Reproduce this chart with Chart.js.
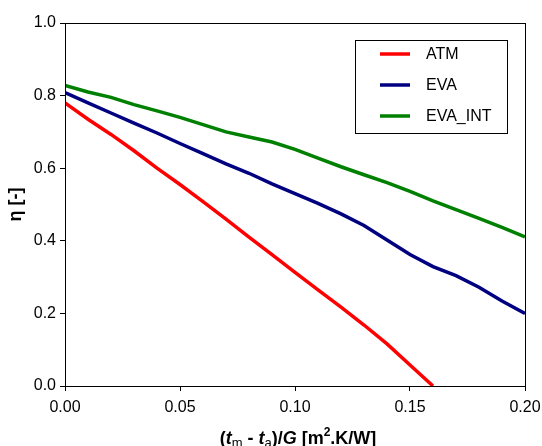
<!DOCTYPE html>
<html>
<head>
<meta charset="utf-8">
<script src="https://cdn.jsdelivr.net/npm/chart.js@4"></script>
<style>
  body { margin: 0; background: #fff; }
  canvas { display: block; }
</style>
</head>
<body>
<canvas id="chart" width="542" height="446"></canvas>
<script>
// values
const xValues = [0.00, 0.01, 0.02, 0.03, 0.04, 0.05, 0.06, 0.07, 0.08, 0.09, 0.10,
                 0.11, 0.12, 0.13, 0.14, 0.15, 0.16, 0.17, 0.18, 0.19, 0.20];
const atm = [0.780, 0.735, 0.693, 0.648, 0.600, 0.555, 0.508, 0.460, 0.410, 0.362, 0.313,
             0.265, 0.217, 0.168, 0.116, 0.058, 0.000];
const eva = [0.808, 0.780, 0.752, 0.724, 0.697, 0.668, 0.640, 0.612, 0.586, 0.557, 0.530,
             0.503, 0.474, 0.442, 0.402, 0.362, 0.329, 0.304, 0.272, 0.234, 0.200];
const evaInt = [0.828, 0.810, 0.795, 0.775, 0.758, 0.740, 0.720, 0.700, 0.686, 0.672, 0.652,
                0.628, 0.604, 0.582, 0.560, 0.536, 0.510, 0.486, 0.462, 0.437, 0.411];
const seriesNames = ['ATM', 'EVA', 'EVA_INT'];
const seriesColors = ['#ff0000', '#000080', '#008000'];

const toPoints = (ys) => ys.map((y, i) => ({ x: xValues[i], y: y }));

const FONT = 'Arial, "Liberation Sans", sans-serif';

// frame around the plot area
const frame = {
    id: 'frame',
    afterDraw(chart) {
        const { ctx, chartArea: a } = chart;
        ctx.save();
        ctx.strokeStyle = '#000';
        ctx.lineWidth = 1;
        ctx.strokeRect(a.left + 0.5, a.top + 0.5, a.right - a.left, a.bottom - a.top);
        ctx.restore();
    }
};

// boxed legend inside the plot, top right
const boxLegend = {
    id: 'boxLegend',
    afterDraw(chart) {
        const ctx = chart.ctx;
        ctx.save();
        ctx.fillStyle = '#fff';
        ctx.fillRect(355, 40, 152, 93);
        ctx.strokeStyle = '#000';
        ctx.lineWidth = 1;
        ctx.strokeRect(355.5, 40.5, 152, 93);
        ctx.font = '16px ' + FONT;
        ctx.textBaseline = 'middle';
        chart.data.datasets.forEach((ds, i) => {
            const y = 54 + i * 31;
            ctx.strokeStyle = ds.borderColor;
            ctx.lineWidth = 3.5;
            ctx.beginPath();
            ctx.moveTo(380, y);
            ctx.lineTo(410, y);
            ctx.stroke();
            ctx.fillStyle = '#000';
            ctx.fillText(ds.label, 426, y + 1);
        });
        ctx.restore();
    }
};

// x axis title with italics, subscripts and superscript
const xTitle = {
    id: 'xTitle',
    afterDraw(chart) {
        const ctx = chart.ctx;
        const parts = [
            { t: '(', f: 'bold 18px', dy: 0 },
            { t: 't', f: 'italic bold 18px', dy: 0 },
            { t: 'm', f: '13px', dy: 3 },
            { t: ' - ', f: 'bold 18px', dy: 0 },
            { t: 't', f: 'italic bold 18px', dy: 0 },
            { t: 'a', f: '13px', dy: 3 },
            { t: ')/', f: 'bold 18px', dy: 0 },
            { t: 'G', f: 'italic bold 18px', dy: 0 },
            { t: ' [m', f: 'bold 18px', dy: 0 },
            { t: '2', f: 'bold 12px', dy: -8 },
            { t: '.K/W]', f: 'bold 18px', dy: 0 }
        ];
        ctx.save();
        ctx.fillStyle = '#000';
        ctx.textBaseline = 'alphabetic';
        let total = 0;
        parts.forEach(p => {
            ctx.font = p.f + ' ' + FONT;
            p.w = ctx.measureText(p.t).width;
            total += p.w;
        });
        let x = 298 - total / 2;
        const base = 444;
        parts.forEach(p => {
            ctx.font = p.f + ' ' + FONT;
            ctx.fillText(p.t, x, base + p.dy);
            x += p.w;
        });
        ctx.restore();
    }
};

new Chart(document.getElementById('chart'), {
    type: 'line',
    data: {
        datasets: [atm, eva, evaInt].map((ys, i) => ({
            label: seriesNames[i],
            data: toPoints(ys),
            borderColor: seriesColors[i],
            backgroundColor: seriesColors[i],
            borderWidth: 3.5,
            pointRadius: 0,
            tension: 0,
            fill: false
        }))
    },
    options: {
        responsive: false,
        animation: false,
        layout: { padding: { top: 23, right: 17, left: 0, bottom: 0 } },
        plugins: {
            legend: { display: false },
            tooltip: { enabled: false }
        },
        scales: {
            x: {
                type: 'linear',
                min: 0,
                max: 0.2,
                afterFit(scale) {
                    scale.height = 60;
                    scale.paddingLeft = 0;
                    scale.paddingRight = 0;
                },
                border: { display: true, color: '#000', width: 1 },
                grid: { drawOnChartArea: false, drawTicks: true, tickLength: 5, color: '#000' },
                ticks: {
                    stepSize: 0.05,
                    padding: 7,
                    color: '#000',
                    font: { family: FONT, size: 16 },
                    maxRotation: 0,
                    callback: (v) => v.toFixed(2)
                }
            },
            y: {
                min: 0,
                max: 1,
                afterFit(scale) {
                    scale.width = 65;
                    scale.paddingTop = 0;
                    scale.paddingBottom = 0;
                },
                border: { display: true, color: '#000', width: 1 },
                grid: { drawOnChartArea: false, drawTicks: true, tickLength: 5, color: '#000' },
                ticks: {
                    stepSize: 0.2,
                    padding: 4,
                    color: '#000',
                    font: { family: FONT, size: 16 },
                    callback: (v) => v.toFixed(1)
                },
                title: {
                    display: true,
                    text: 'η [-]',
                    color: '#000',
                    font: { family: FONT, size: 18, weight: 'bold' },
                    padding: { top: 5, bottom: 0 }
                }
            }
        }
    },
    plugins: [frame, boxLegend, xTitle]
});
</script>
</body>
</html>
